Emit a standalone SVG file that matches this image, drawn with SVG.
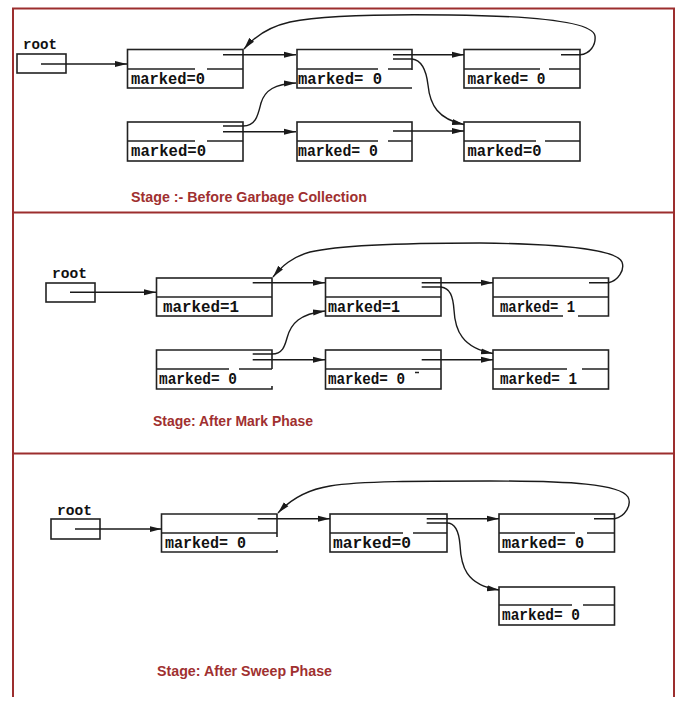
<svg xmlns="http://www.w3.org/2000/svg" width="697" height="705" viewBox="0 0 697 705">
<defs>
<marker id="ah" markerWidth="12" markerHeight="7" refX="12" refY="3.5" orient="auto" markerUnits="userSpaceOnUse"><path d="M0,0.5 L12,3.5 L0,6.5 Z" fill="#1a1a1a"/></marker>
<style>
.frame{fill:none;stroke:#9c2e2e;stroke-width:2}
.box{fill:none;stroke:#222;stroke-width:1.6}
.div{fill:none;stroke:#222;stroke-width:1.5}
.conn{fill:none;stroke:#1a1a1a;stroke-width:1.4;marker-end:url(#ah)}
.lbl{font-family:"Liberation Mono","DejaVu Sans Mono",monospace;font-weight:bold;font-size:16px;fill:#111}
.root{font-family:"Liberation Mono","DejaVu Sans Mono",monospace;font-weight:bold;font-size:15px;fill:#111}
.title{font-family:"Liberation Sans",Arial,sans-serif;font-weight:bold;font-size:15.5px;fill:#a03030}
</style>
</defs>
<rect width="697" height="705" fill="#fff"/>
<g id="frames">
<path class="frame" d="M13,697 V8.5 H674 V697"/>
<path class="frame" d="M13,212.5 H674 M13,453.5 H674"/>
</g>
<!-- Panel 1 -->
<g id="p1-root"><text class="root" x="23" y="49" textLength="34" lengthAdjust="spacingAndGlyphs">root</text><rect class="box" x="17" y="54" width="49" height="19"/></g>
<g id="p1-A"><rect class="box" x="127.5" y="49.5" width="115.5" height="38.5"/><path class="div" d="M127.5,69 H195 M207,69 H243"/><text class="lbl" x="131" y="83.5" textLength="74" lengthAdjust="spacingAndGlyphs">marked=0</text></g>
<g id="p1-B"><path class="box" d="M412,70 V49.5 H297 V88 H412"/><path class="div" d="M297,69 H378 M388,69 H412"/><text class="lbl" x="298" y="83.5" textLength="84" lengthAdjust="spacingAndGlyphs">marked= 0</text></g>
<g id="p1-C"><rect class="box" x="464" y="49.5" width="116" height="38.5"/><path class="div" d="M464,69 H540 M549,69 H580"/><text class="lbl" x="467.5" y="83.5" textLength="78" lengthAdjust="spacingAndGlyphs">marked= 0</text></g>
<g id="p1-D"><rect class="box" x="127.5" y="122" width="115.5" height="39"/><path class="div" d="M127.5,141 H195 M207,141 H243"/><text class="lbl" x="131" y="155.5" textLength="75" lengthAdjust="spacingAndGlyphs">marked=0</text></g>
<g id="p1-F"><rect class="box" x="297" y="122" width="115" height="39"/><path class="div" d="M297,141 H378 M388,141 H412"/><text class="lbl" x="298" y="155.5" textLength="80" lengthAdjust="spacingAndGlyphs">marked= 0</text></g>
<g id="p1-E"><rect class="box" x="464" y="122" width="116" height="39"/><path class="div" d="M464,141 H536 M545,141 H580"/><text class="lbl" x="467.5" y="155.5" textLength="74" lengthAdjust="spacingAndGlyphs">marked=0</text></g>
<text class="title" x="131" y="202" textLength="236" lengthAdjust="spacingAndGlyphs">Stage :- Before Garbage Collection</text>
<!-- Panel 2 -->
<g id="p2-root"><text class="root" x="52" y="278" textLength="35" lengthAdjust="spacingAndGlyphs">root</text><rect class="box" x="46" y="283" width="49" height="19"/></g>
<g id="p2-A"><rect class="box" x="156.5" y="278" width="115.5" height="38"/><path class="div" d="M156.5,297 H272"/><text class="lbl" x="163" y="311.5" textLength="76" lengthAdjust="spacingAndGlyphs">marked=1</text></g>
<g id="p2-B"><rect class="box" x="325.5" y="278" width="115.5" height="38"/><path class="div" d="M325.5,297 H441"/><text class="lbl" x="328" y="311.5" textLength="72" lengthAdjust="spacingAndGlyphs">marked=1</text></g>
<g id="p2-C"><path class="box" d="M563,316 H493 V278 H608.5 V316 H578"/><path class="div" d="M493,297 H608.5"/><text class="lbl" x="500" y="312" textLength="75" lengthAdjust="spacingAndGlyphs">marked= 1</text></g>
<g id="p2-D"><path class="box" d="M272,369 V350 H156.5 V389 H272 V386"/><path class="div" d="M156.5,369 H229 M239,369 H272"/><text class="lbl" x="159" y="383.5" textLength="78" lengthAdjust="spacingAndGlyphs">marked= 0</text></g>
<g id="p2-F"><rect class="box" x="325.5" y="350" width="115.5" height="39"/><path class="div" d="M325.5,369 H441 M415,372.5 H419"/><text class="lbl" x="328" y="383.5" textLength="77" lengthAdjust="spacingAndGlyphs">marked= 0</text></g>
<g id="p2-E"><rect class="box" x="493" y="350" width="115.5" height="39"/><path class="div" d="M493,369 H567 M582,369 H608.5"/><text class="lbl" x="500" y="383.5" textLength="77" lengthAdjust="spacingAndGlyphs">marked= 1</text></g>
<text class="title" x="153" y="426" textLength="160" lengthAdjust="spacingAndGlyphs">Stage: After Mark Phase</text>
<!-- Panel 3 -->
<g id="p3-root"><text class="root" x="57" y="515" textLength="35" lengthAdjust="spacingAndGlyphs">root</text><rect class="box" x="51" y="519" width="49" height="20"/></g>
<g id="p3-A"><path class="box" d="M277,537 V514 H161.5 V552 H277 V550"/><path class="div" d="M161.5,533 H277"/><text class="lbl" x="165" y="547.5" textLength="81" lengthAdjust="spacingAndGlyphs">marked= 0</text></g>
<g id="p3-B"><rect class="box" x="330" y="514" width="117" height="38"/><path class="div" d="M330,533 H403 M413,533 H447"/><text class="lbl" x="333" y="547.5" textLength="78" lengthAdjust="spacingAndGlyphs">marked=0</text></g>
<g id="p3-C"><rect class="box" x="499" y="514" width="115.5" height="38"/><path class="div" d="M499,533 H575 M587,533 H614.5"/><text class="lbl" x="502" y="547.5" textLength="82" lengthAdjust="spacingAndGlyphs">marked= 0</text></g>
<g id="p3-E"><rect class="box" x="499" y="587" width="115.5" height="38"/><path class="div" d="M499,605 H572 M583,605 H614.5"/><text class="lbl" x="502" y="619.5" textLength="78" lengthAdjust="spacingAndGlyphs">marked= 0</text></g>
<text class="title" x="157" y="676" textLength="175" lengthAdjust="spacingAndGlyphs">Stage: After Sweep Phase</text>
<g id="connectors">
<path class="conn" d="M41,64 H127"/>
<path class="conn" d="M223,54.7 H296"/>
<path class="conn" d="M393,54.7 H464"/>
<path class="conn" d="M223,131.7 H296"/>
<path class="conn" d="M393,131 H464"/>
<path class="conn" d="M561,54.7 H580 C590,54 596,45 595,36 C593,22 540,16 450,15 C380,14 320,16 290,22 C268,27 254,37 244,49"/>
<path class="conn" d="M393,59 H412 C421,60 426,68 428,85 C430,105 438,119 464,124.5"/>
<path class="conn" d="M223,126 H243 C256,126 258,115 261,103 C265,90 275,84 296,83"/>
<path class="conn" d="M70,292.3 H156"/>
<path class="conn" d="M252.7,282.7 H325"/>
<path class="conn" d="M421.7,282.7 H493"/>
<path class="conn" d="M252.7,359.7 H325"/>
<path class="conn" d="M421.7,359.7 H493"/>
<path class="conn" d="M589,282.7 H608.5 C618,281 625,270 622,262 C616,249 560,244 480,243 C400,243 340,245 310,252 C292,257 282,266 273,277"/>
<path class="conn" d="M421.7,287 H441 C450,288 453,296 454,310 C455,330 462,348 493,353.5"/>
<path class="conn" d="M252.7,354 H272 C283,354 285,345 287,338 C291,323 300,314 325,311"/>
<path class="conn" d="M75,529 H161.5"/>
<path class="conn" d="M257.7,518.7 H330"/>
<path class="conn" d="M426.7,518.7 H499"/>
<path class="conn" d="M594,518.7 H614.5 C625,517 632,505 628,497 C620,484 570,481 490,481 C420,481 360,481 330,486 C305,490 290,500 278,513"/>
<path class="conn" d="M426.7,523 H447 C456,523 459,532 460,545 C461,565 465,585 499,590"/>
</g>
</svg>
